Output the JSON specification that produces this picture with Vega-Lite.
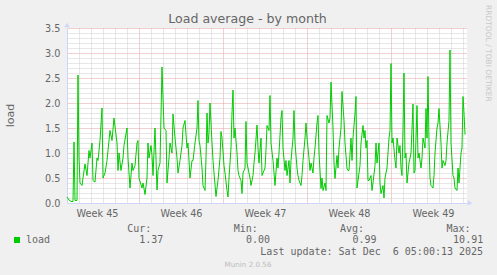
{
  "$schema": "https://vega.github.io/schema/vega-lite/v6.json",
  "width": 400,
  "height": 175,
  "autosize": {"type": "none"},
  "padding": {"left": 67, "top": 28, "right": 30, "bottom": 72},
  "background": "#f0f0f0",
  "view": {"fill": "#ffffff", "stroke": null},
  "title": {"text": "Load average - by month", "font": "DejaVu Sans", "fontSize": 12.6, "fontWeight": "normal", "color": "#666666", "anchor": "middle", "frame": "group", "dx": -19.5, "dy": 21, "offset": 0},
  "data": {"values": [
    {"t":"2025-11-03T00:00:00Z","v":0.12},{"t":"2025-11-03T04:00:00Z","v":0.06},{"t":"2025-11-03T08:00:00Z","v":0.03},{"t":"2025-11-03T12:00:00Z","v":0.03},{"t":"2025-11-03T14:00:00Z","v":1.22},{"t":"2025-11-03T16:00:00Z","v":0.05},{"t":"2025-11-03T20:00:00Z","v":0.05},{"t":"2025-11-03T22:00:00Z","v":2.56},
    {"t":"2025-11-04T00:00:00Z","v":0.9},{"t":"2025-11-04T02:00:00Z","v":0.4},{"t":"2025-11-04T06:00:00Z","v":0.35},{"t":"2025-11-04T08:00:00Z","v":0.5},{"t":"2025-11-04T12:00:00Z","v":0.78},{"t":"2025-11-04T16:00:00Z","v":0.55},{"t":"2025-11-04T20:00:00Z","v":1.05},{"t":"2025-11-04T22:00:00Z","v":0.9},
    {"t":"2025-11-05T02:00:00Z","v":1.2},{"t":"2025-11-05T04:00:00Z","v":0.45},{"t":"2025-11-05T08:00:00Z","v":0.42},{"t":"2025-11-05T12:00:00Z","v":0.9},{"t":"2025-11-05T14:00:00Z","v":0.85},{"t":"2025-11-05T18:00:00Z","v":1.25},{"t":"2025-11-05T22:00:00Z","v":1.9},
    {"t":"2025-11-06T00:00:00Z","v":0.5},{"t":"2025-11-06T04:00:00Z","v":0.6},{"t":"2025-11-06T08:00:00Z","v":0.85},{"t":"2025-11-06T14:00:00Z","v":1.45},{"t":"2025-11-06T18:00:00Z","v":1.25},{"t":"2025-11-06T22:00:00Z","v":1.7},
    {"t":"2025-11-07T04:00:00Z","v":1.2},{"t":"2025-11-07T06:00:00Z","v":0.65},{"t":"2025-11-07T08:00:00Z","v":1.0},{"t":"2025-11-07T12:00:00Z","v":0.65},{"t":"2025-11-07T16:00:00Z","v":0.9},{"t":"2025-11-07T18:00:00Z","v":1.15},
    {"t":"2025-11-08T00:00:00Z","v":1.5},{"t":"2025-11-08T02:00:00Z","v":0.9},{"t":"2025-11-08T06:00:00Z","v":0.3},{"t":"2025-11-08T10:00:00Z","v":0.8},{"t":"2025-11-08T12:00:00Z","v":0.65},{"t":"2025-11-08T16:00:00Z","v":0.75},{"t":"2025-11-08T20:00:00Z","v":1.2},{"t":"2025-11-08T22:00:00Z","v":1.25},
    {"t":"2025-11-09T00:00:00Z","v":0.5},{"t":"2025-11-09T06:00:00Z","v":0.3},{"t":"2025-11-09T08:00:00Z","v":0.4},{"t":"2025-11-09T12:00:00Z","v":0.17},{"t":"2025-11-09T16:00:00Z","v":0.5},{"t":"2025-11-09T18:00:00Z","v":1.2},{"t":"2025-11-09T20:00:00Z","v":0.9},
    {"t":"2025-11-10T00:00:00Z","v":1.15},{"t":"2025-11-10T02:00:00Z","v":0.95},{"t":"2025-11-10T04:00:00Z","v":0.55},{"t":"2025-11-10T08:00:00Z","v":1.5},{"t":"2025-11-10T12:00:00Z","v":0.26},{"t":"2025-11-10T14:00:00Z","v":0.65},{"t":"2025-11-10T18:00:00Z","v":0.8},{"t":"2025-11-10T22:00:00Z","v":2.72},
    {"t":"2025-11-11T02:00:00Z","v":1.5},{"t":"2025-11-11T06:00:00Z","v":1.45},{"t":"2025-11-11T08:00:00Z","v":0.4},{"t":"2025-11-11T12:00:00Z","v":0.9},{"t":"2025-11-11T14:00:00Z","v":1.2},{"t":"2025-11-11T18:00:00Z","v":1.0},{"t":"2025-11-11T20:00:00Z","v":1.78},
    {"t":"2025-11-12T00:00:00Z","v":1.3},{"t":"2025-11-12T04:00:00Z","v":0.9},{"t":"2025-11-12T06:00:00Z","v":0.6},{"t":"2025-11-12T10:00:00Z","v":0.85},{"t":"2025-11-12T14:00:00Z","v":1.15},{"t":"2025-11-12T16:00:00Z","v":1.5},{"t":"2025-11-12T20:00:00Z","v":1.65},
    {"t":"2025-11-13T00:00:00Z","v":1.1},{"t":"2025-11-13T02:00:00Z","v":1.2},{"t":"2025-11-13T06:00:00Z","v":0.5},{"t":"2025-11-13T10:00:00Z","v":0.85},{"t":"2025-11-13T12:00:00Z","v":0.85},{"t":"2025-11-13T16:00:00Z","v":1.2},{"t":"2025-11-13T20:00:00Z","v":1.5},{"t":"2025-11-13T22:00:00Z","v":2.05},
    {"t":"2025-11-14T00:00:00Z","v":1.25},{"t":"2025-11-14T02:00:00Z","v":1.15},{"t":"2025-11-14T06:00:00Z","v":0.7},{"t":"2025-11-14T08:00:00Z","v":0.35},{"t":"2025-11-14T12:00:00Z","v":0.25},{"t":"2025-11-14T14:00:00Z","v":0.9},{"t":"2025-11-14T16:00:00Z","v":1.8},{"t":"2025-11-14T18:00:00Z","v":1.2},{"t":"2025-11-14T20:00:00Z","v":1.4},{"t":"2025-11-14T22:00:00Z","v":2.0},
    {"t":"2025-11-15T02:00:00Z","v":1.2},{"t":"2025-11-15T04:00:00Z","v":0.85},{"t":"2025-11-15T06:00:00Z","v":0.6},{"t":"2025-11-15T10:00:00Z","v":0.13},{"t":"2025-11-15T12:00:00Z","v":0.3},{"t":"2025-11-15T14:00:00Z","v":0.45},{"t":"2025-11-15T18:00:00Z","v":0.9},{"t":"2025-11-15T20:00:00Z","v":1.43},{"t":"2025-11-15T22:00:00Z","v":1.3},
    {"t":"2025-11-16T02:00:00Z","v":0.75},{"t":"2025-11-16T04:00:00Z","v":0.6},{"t":"2025-11-16T08:00:00Z","v":0.25},{"t":"2025-11-16T10:00:00Z","v":0.12},{"t":"2025-11-16T12:00:00Z","v":0.5},{"t":"2025-11-16T16:00:00Z","v":1.1},{"t":"2025-11-16T18:00:00Z","v":1.8},{"t":"2025-11-16T20:00:00Z","v":2.26},{"t":"2025-11-16T22:00:00Z","v":1.3},
    {"t":"2025-11-17T00:00:00Z","v":1.5},{"t":"2025-11-17T04:00:00Z","v":1.0},{"t":"2025-11-17T06:00:00Z","v":0.65},{"t":"2025-11-17T08:00:00Z","v":0.55},{"t":"2025-11-17T12:00:00Z","v":0.45},{"t":"2025-11-17T14:00:00Z","v":0.19},{"t":"2025-11-17T16:00:00Z","v":0.6},{"t":"2025-11-17T20:00:00Z","v":0.7},{"t":"2025-11-17T22:00:00Z","v":1.63},
    {"t":"2025-11-18T00:00:00Z","v":0.8},{"t":"2025-11-18T04:00:00Z","v":0.6},{"t":"2025-11-18T06:00:00Z","v":0.5},{"t":"2025-11-18T08:00:00Z","v":0.35},{"t":"2025-11-18T12:00:00Z","v":0.55},{"t":"2025-11-18T14:00:00Z","v":0.8},{"t":"2025-11-18T16:00:00Z","v":1.0},{"t":"2025-11-18T20:00:00Z","v":1.56},{"t":"2025-11-18T22:00:00Z","v":1.1},
    {"t":"2025-11-19T00:00:00Z","v":0.8},{"t":"2025-11-19T04:00:00Z","v":1.3},{"t":"2025-11-19T06:00:00Z","v":0.55},{"t":"2025-11-19T08:00:00Z","v":0.6},{"t":"2025-11-19T12:00:00Z","v":0.7},{"t":"2025-11-19T14:00:00Z","v":1.05},{"t":"2025-11-19T16:00:00Z","v":1.55},{"t":"2025-11-19T20:00:00Z","v":1.45},{"t":"2025-11-19T22:00:00Z","v":2.15},
    {"t":"2025-11-20T00:00:00Z","v":1.2},{"t":"2025-11-20T04:00:00Z","v":0.85},{"t":"2025-11-20T06:00:00Z","v":0.6},{"t":"2025-11-20T08:00:00Z","v":0.35},{"t":"2025-11-20T12:00:00Z","v":0.9},{"t":"2025-11-20T14:00:00Z","v":0.7},{"t":"2025-11-20T16:00:00Z","v":1.0},{"t":"2025-11-20T20:00:00Z","v":1.7},{"t":"2025-11-20T22:00:00Z","v":1.85},
    {"t":"2025-11-21T00:00:00Z","v":1.1},{"t":"2025-11-21T04:00:00Z","v":0.65},{"t":"2025-11-21T06:00:00Z","v":0.85},{"t":"2025-11-21T08:00:00Z","v":0.55},{"t":"2025-11-21T12:00:00Z","v":0.85},{"t":"2025-11-21T14:00:00Z","v":0.4},{"t":"2025-11-21T16:00:00Z","v":0.85},{"t":"2025-11-21T20:00:00Z","v":1.3},{"t":"2025-11-21T22:00:00Z","v":1.85},
    {"t":"2025-11-22T00:00:00Z","v":1.2},{"t":"2025-11-22T04:00:00Z","v":0.7},{"t":"2025-11-22T06:00:00Z","v":0.55},{"t":"2025-11-22T08:00:00Z","v":0.45},{"t":"2025-11-22T12:00:00Z","v":0.35},{"t":"2025-11-22T14:00:00Z","v":0.55},{"t":"2025-11-22T16:00:00Z","v":0.85},{"t":"2025-11-22T20:00:00Z","v":1.3},{"t":"2025-11-22T22:00:00Z","v":1.6},
    {"t":"2025-11-23T00:00:00Z","v":1.3},{"t":"2025-11-23T04:00:00Z","v":0.9},{"t":"2025-11-23T06:00:00Z","v":0.65},{"t":"2025-11-23T08:00:00Z","v":0.8},{"t":"2025-11-23T12:00:00Z","v":0.6},{"t":"2025-11-23T14:00:00Z","v":0.9},{"t":"2025-11-23T16:00:00Z","v":1.1},{"t":"2025-11-23T20:00:00Z","v":1.6},{"t":"2025-11-23T22:00:00Z","v":1.75},
    {"t":"2025-11-24T00:00:00Z","v":1.0},{"t":"2025-11-24T04:00:00Z","v":0.29},{"t":"2025-11-24T06:00:00Z","v":0.5},{"t":"2025-11-24T08:00:00Z","v":0.25},{"t":"2025-11-24T12:00:00Z","v":0.4},{"t":"2025-11-24T14:00:00Z","v":0.25},{"t":"2025-11-24T16:00:00Z","v":1.75},{"t":"2025-11-24T20:00:00Z","v":1.6},{"t":"2025-11-24T22:00:00Z","v":1.7},
    {"t":"2025-11-25T00:00:00Z","v":2.42},{"t":"2025-11-25T04:00:00Z","v":1.5},{"t":"2025-11-25T06:00:00Z","v":0.8},{"t":"2025-11-25T08:00:00Z","v":0.49},{"t":"2025-11-25T12:00:00Z","v":0.95},{"t":"2025-11-25T14:00:00Z","v":0.7},{"t":"2025-11-25T16:00:00Z","v":1.1},{"t":"2025-11-25T20:00:00Z","v":1.5},{"t":"2025-11-25T22:00:00Z","v":2.23},
    {"t":"2025-11-26T02:00:00Z","v":1.65},{"t":"2025-11-26T04:00:00Z","v":1.2},{"t":"2025-11-26T08:00:00Z","v":0.69},{"t":"2025-11-26T10:00:00Z","v":0.65},{"t":"2025-11-26T12:00:00Z","v":0.65},{"t":"2025-11-26T16:00:00Z","v":1.3},{"t":"2025-11-26T18:00:00Z","v":0.85},{"t":"2025-11-26T20:00:00Z","v":1.3},
    {"t":"2025-11-27T00:00:00Z","v":1.8},{"t":"2025-11-27T02:00:00Z","v":2.13},{"t":"2025-11-27T04:00:00Z","v":0.3},{"t":"2025-11-27T08:00:00Z","v":0.6},{"t":"2025-11-27T10:00:00Z","v":0.75},{"t":"2025-11-27T12:00:00Z","v":1.2},{"t":"2025-11-27T16:00:00Z","v":1.55},{"t":"2025-11-27T18:00:00Z","v":1.3},{"t":"2025-11-27T20:00:00Z","v":1.45},{"t":"2025-11-27T22:00:00Z","v":1.1},
    {"t":"2025-11-28T00:00:00Z","v":1.25},{"t":"2025-11-28T02:00:00Z","v":0.45},{"t":"2025-11-28T04:00:00Z","v":0.45},{"t":"2025-11-28T08:00:00Z","v":0.55},{"t":"2025-11-28T10:00:00Z","v":0.25},{"t":"2025-11-28T12:00:00Z","v":0.4},{"t":"2025-11-28T16:00:00Z","v":0.75},{"t":"2025-11-28T18:00:00Z","v":1.2},{"t":"2025-11-28T20:00:00Z","v":0.8},
    {"t":"2025-11-29T00:00:00Z","v":1.2},{"t":"2025-11-29T02:00:00Z","v":0.4},{"t":"2025-11-29T04:00:00Z","v":0.19},{"t":"2025-11-29T08:00:00Z","v":0.35},{"t":"2025-11-29T10:00:00Z","v":0.1},{"t":"2025-11-29T12:00:00Z","v":0.5},{"t":"2025-11-29T16:00:00Z","v":0.7},{"t":"2025-11-29T20:00:00Z","v":1.3},{"t":"2025-11-29T22:00:00Z","v":1.45},
    {"t":"2025-11-30T00:00:00Z","v":2.79},{"t":"2025-11-30T02:00:00Z","v":1.2},{"t":"2025-11-30T04:00:00Z","v":1.3},{"t":"2025-11-30T08:00:00Z","v":0.85},{"t":"2025-11-30T10:00:00Z","v":0.7},{"t":"2025-11-30T12:00:00Z","v":1.3},{"t":"2025-11-30T16:00:00Z","v":1.0},{"t":"2025-11-30T18:00:00Z","v":1.15},{"t":"2025-11-30T20:00:00Z","v":0.7},{"t":"2025-11-30T22:00:00Z","v":0.55},
    {"t":"2025-12-01T00:00:00Z","v":1.5},{"t":"2025-12-01T02:00:00Z","v":2.6},{"t":"2025-12-01T04:00:00Z","v":0.9},{"t":"2025-12-01T06:00:00Z","v":1.0},{"t":"2025-12-01T08:00:00Z","v":0.4},{"t":"2025-12-01T12:00:00Z","v":0.8},{"t":"2025-12-01T14:00:00Z","v":0.9},{"t":"2025-12-01T16:00:00Z","v":1.0},{"t":"2025-12-01T20:00:00Z","v":1.98},{"t":"2025-12-01T22:00:00Z","v":0.6},
    {"t":"2025-12-02T00:00:00Z","v":0.65},{"t":"2025-12-02T04:00:00Z","v":1.95},{"t":"2025-12-02T06:00:00Z","v":0.9},{"t":"2025-12-02T08:00:00Z","v":1.0},{"t":"2025-12-02T12:00:00Z","v":0.7},{"t":"2025-12-02T14:00:00Z","v":0.9},{"t":"2025-12-02T16:00:00Z","v":1.3},{"t":"2025-12-02T20:00:00Z","v":1.1},{"t":"2025-12-02T22:00:00Z","v":1.89},
    {"t":"2025-12-03T00:00:00Z","v":1.3},{"t":"2025-12-03T02:00:00Z","v":2.53},{"t":"2025-12-03T04:00:00Z","v":1.2},{"t":"2025-12-03T06:00:00Z","v":0.5},{"t":"2025-12-03T08:00:00Z","v":0.35},{"t":"2025-12-03T12:00:00Z","v":0.3},{"t":"2025-12-03T14:00:00Z","v":0.55},{"t":"2025-12-03T16:00:00Z","v":1.0},{"t":"2025-12-03T20:00:00Z","v":1.5},{"t":"2025-12-03T22:00:00Z","v":1.6},
    {"t":"2025-12-04T00:00:00Z","v":1.89},{"t":"2025-12-04T04:00:00Z","v":1.2},{"t":"2025-12-04T06:00:00Z","v":0.7},{"t":"2025-12-04T08:00:00Z","v":0.85},{"t":"2025-12-04T12:00:00Z","v":0.75},{"t":"2025-12-04T14:00:00Z","v":0.85},{"t":"2025-12-04T16:00:00Z","v":1.2},{"t":"2025-12-04T20:00:00Z","v":1.65},{"t":"2025-12-04T22:00:00Z","v":3.06},
    {"t":"2025-12-05T00:00:00Z","v":1.2},{"t":"2025-12-05T04:00:00Z","v":0.55},{"t":"2025-12-05T06:00:00Z","v":0.5},{"t":"2025-12-05T08:00:00Z","v":0.3},{"t":"2025-12-05T12:00:00Z","v":0.25},{"t":"2025-12-05T14:00:00Z","v":0.7},{"t":"2025-12-05T16:00:00Z","v":0.4},{"t":"2025-12-05T20:00:00Z","v":1.0},{"t":"2025-12-05T22:00:00Z","v":1.1},
    {"t":"2025-12-06T00:00:00Z","v":2.13},{"t":"2025-12-06T02:00:00Z","v":1.8},{"t":"2025-12-06T04:00:00Z","v":1.37}
  ]},
  "resolve": {"axis": {"x": "independent", "y": "independent"}},
  "layer": [
    {
      "mark": {"type": "line", "opacity": 0},
      "encoding": {
        "x": {"field": "t", "type": "temporal",
          "scale": {"type": "utc", "domain": [{"year": 2025, "month": 11, "date": 3, "hours": 0, "utc": true}, {"year": 2025, "month": 12, "date": 6, "hours": 8, "utc": true}], "nice": false},
          "axis": {"orient": "bottom", "title": null, "labels": false, "ticks": false, "domain": false, "grid": true, "gridColor": "#cfcfcf", "gridDash": [1, 1], "gridWidth": 1,
            "values": [1762214400000, 1762300800000, 1762387200000, 1762473600000, 1762560000000, 1762732800000, 1762819200000, 1762905600000, 1762992000000, 1763078400000, 1763164800000, 1763337600000, 1763424000000, 1763510400000, 1763596800000, 1763683200000, 1763769600000, 1763942400000, 1764028800000, 1764115200000, 1764201600000, 1764288000000, 1764374400000, 1764547200000, 1764633600000, 1764720000000, 1764806400000, 1764892800000, 1764979200000]}},
        "y": {"field": "v", "type": "quantitative",
          "scale": {"domain": [0, 3.5], "nice": false, "zero": false},
          "axis": {"orient": "left", "title": null, "labels": false, "ticks": false, "domain": false, "grid": true, "gridColor": "#cfcfcf", "gridDash": [1, 1], "gridWidth": 1,
            "values": [0.1, 0.2, 0.3, 0.4, 0.6, 0.7, 0.8, 0.9, 1.1, 1.2, 1.3, 1.4, 1.6, 1.7, 1.8, 1.9, 2.1, 2.2, 2.3, 2.4, 2.6, 2.7, 2.8, 2.9, 3.1, 3.2, 3.3, 3.4]}}
      }
    },
    {
      "mark": {"type": "line", "opacity": 0},
      "encoding": {
        "x": {"field": "t", "type": "temporal",
          "scale": {"type": "utc", "domain": [{"year": 2025, "month": 11, "date": 3, "hours": 0, "utc": true}, {"year": 2025, "month": 12, "date": 6, "hours": 8, "utc": true}], "nice": false},
          "axis": {"orient": "bottom", "title": null, "labels": false, "ticks": false, "domain": true, "domainColor": "#cfd6f8", "domainWidth": 1, "grid": true, "gridColor": "#e6a0a0", "gridDash": [1, 1], "gridWidth": 1,
            "values": [1762646400000, 1763251200000, 1763856000000, 1764460800000]}},
        "y": {"field": "v", "type": "quantitative",
          "scale": {"domain": [0, 3.5], "nice": false, "zero": false},
          "axis": {"orient": "left", "title": null, "labels": false, "ticks": false, "domain": true, "domainColor": "#cfd6f8", "domainWidth": 1, "grid": true, "gridColor": "#e6a0a0", "gridDash": [1, 1], "gridWidth": 1,
            "values": [0.5, 1, 1.5, 2, 2.5, 3, 3.5]}}
      }
    },
    {
      "mark": {"type": "line", "color": "#00cc00", "strokeWidth": 1, "interpolate": "linear"},
      "encoding": {
        "x": {"field": "t", "type": "temporal",
          "scale": {"type": "utc", "domain": [{"year": 2025, "month": 11, "date": 3, "hours": 0, "utc": true}, {"year": 2025, "month": 12, "date": 6, "hours": 8, "utc": true}], "nice": false},
          "axis": {"orient": "bottom", "title": null, "grid": false, "ticks": false, "domain": false, "labelExpr": "utcFormat(datum.value, 'Week %V')",
            "values": [1762344000000, 1762948800000, 1763553600000, 1764158400000, 1764763200000],
            "labelFont": "DejaVu Sans", "labelFontSize": 9.7, "labelColor": "#666666", "labelBaseline": "alphabetic", "labelPadding": 13, "labelFlush": false, "labelOverlap": false, "labelBound": false}},
        "y": {"field": "v", "type": "quantitative", "title": "load",
          "scale": {"domain": [0, 3.5], "nice": false, "zero": false},
          "axis": {"orient": "left", "grid": false, "ticks": false, "domain": false, "format": ".1f",
            "values": [0, 0.5, 1, 1.5, 2, 2.5, 3, 3.5],
            "labelFont": "DejaVu Sans", "labelFontSize": 9.7, "labelColor": "#666666", "labelBaseline": "middle", "labelPadding": 7, "labelFlush": false, "labelOverlap": false, "labelBound": false,
            "titleFont": "DejaVu Sans", "titleFontSize": 11.1, "titleFontWeight": "normal", "titleColor": "#666666", "titleAngle": -90, "titleAlign": "center", "titleBaseline": "middle", "titleX": -57, "titleY": 87}}
      }
    },
    {
      "data": {"values": [{}]},
      "mark": {"type": "point", "shape": "triangle-right", "filled": true, "size": 30, "color": "#cfd6f8", "opacity": 1, "xOffset": 3},
      "encoding": {
        "x": {"datum": {"year": 2025, "month": 12, "date": 6, "hours": 8, "utc": true}, "type": "temporal", "axis": null},
        "y": {"datum": 0, "type": "quantitative", "axis": null}
      }
    },
    {
      "data": {"values": [{}]},
      "mark": {"type": "point", "shape": "triangle-up", "filled": true, "size": 30, "color": "#cfd6f8", "opacity": 1, "yOffset": -3},
      "encoding": {
        "x": {"datum": {"year": 2025, "month": 11, "date": 3, "hours": 0, "utc": true}, "type": "temporal", "axis": null},
        "y": {"datum": 3.5, "type": "quantitative", "axis": null}
      }
    },
    {"data": {"values": [{}]}, "mark": {"type": "text", "text": "RRDTOOL / TOBI OETIKER", "x": 420.8, "y": -23, "angle": 90, "align": "left", "baseline": "middle", "font": "DejaVu Sans", "fontSize": 7.5, "color": "#c8c8c8"}, "encoding": {}},
    {"data": {"values": [{}]}, "mark": {"type": "rect", "x": -53, "x2": -47, "y": 209, "y2": 215, "color": "#00cc00"}, "encoding": {}},
    {"data": {"values": [{}]}, "mark": {"type": "text", "text": "load", "x": -41, "y": 215.2, "align": "left", "baseline": "alphabetic", "font": "DejaVu Sans Mono", "fontSize": 10, "color": "#666666"}, "encoding": {}},
    {"data": {"values": [{}]}, "mark": {"type": "text", "text": "Cur:", "x": 60.2, "y": 203.5, "align": "left", "baseline": "alphabetic", "font": "DejaVu Sans Mono", "fontSize": 10, "color": "#666666"}, "encoding": {}},
    {"data": {"values": [{}]}, "mark": {"type": "text", "text": "Min:", "x": 166.7, "y": 203.5, "align": "left", "baseline": "alphabetic", "font": "DejaVu Sans Mono", "fontSize": 10, "color": "#666666"}, "encoding": {}},
    {"data": {"values": [{}]}, "mark": {"type": "text", "text": "Avg:", "x": 272.9, "y": 203.5, "align": "left", "baseline": "alphabetic", "font": "DejaVu Sans Mono", "fontSize": 10, "color": "#666666"}, "encoding": {}},
    {"data": {"values": [{}]}, "mark": {"type": "text", "text": "Max:", "x": 379.4, "y": 203.5, "align": "left", "baseline": "alphabetic", "font": "DejaVu Sans Mono", "fontSize": 10, "color": "#666666"}, "encoding": {}},
    {"data": {"values": [{}]}, "mark": {"type": "text", "text": "1.37", "x": 96.4, "y": 215.2, "align": "right", "baseline": "alphabetic", "font": "DejaVu Sans Mono", "fontSize": 10, "color": "#666666"}, "encoding": {}},
    {"data": {"values": [{}]}, "mark": {"type": "text", "text": "0.00", "x": 203.1, "y": 215.2, "align": "right", "baseline": "alphabetic", "font": "DejaVu Sans Mono", "fontSize": 10, "color": "#666666"}, "encoding": {}},
    {"data": {"values": [{}]}, "mark": {"type": "text", "text": "0.99", "x": 309.5, "y": 215.2, "align": "right", "baseline": "alphabetic", "font": "DejaVu Sans Mono", "fontSize": 10, "color": "#666666"}, "encoding": {}},
    {"data": {"values": [{}]}, "mark": {"type": "text", "text": "10.91", "x": 416.2, "y": 215.2, "align": "right", "baseline": "alphabetic", "font": "DejaVu Sans Mono", "fontSize": 10, "color": "#666666"}, "encoding": {}},
    {"data": {"values": [{}]}, "mark": {"type": "text", "text": "Last update: Sat Dec \u00a06 05:00:13 2025", "x": 416.1, "y": 227, "align": "right", "baseline": "alphabetic", "font": "DejaVu Sans Mono", "fontSize": 10, "color": "#666666"}, "encoding": {}},
    {"data": {"values": [{}]}, "mark": {"type": "text", "text": "Munin 2.0.56", "x": 181, "y": 239, "align": "center", "baseline": "alphabetic", "font": "DejaVu Sans", "fontSize": 7.2, "color": "#bdbdbd"}, "encoding": {}}
  ]
}
